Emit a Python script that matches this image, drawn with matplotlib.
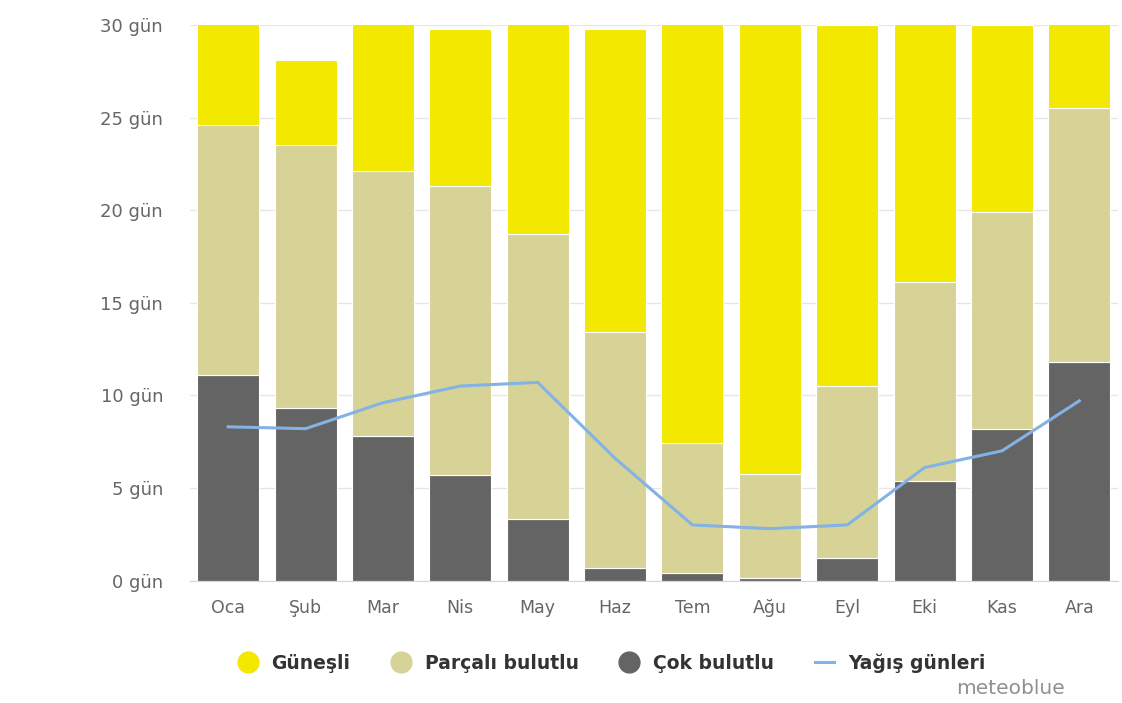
import matplotlib.pyplot as plt
from matplotlib.lines import Line2D
import numpy as np

months = ["Oca", "Şub", "Mar", "Nis", "May", "Haz", "Tem", "Ağu", "Eyl", "Eki", "Kas", "Ara"]
# days per category (stacked from the bottom)
cok_bulutlu = [11.1, 9.3, 7.8, 5.7, 3.3, 0.7, 0.4, 0.15, 1.2, 5.4, 8.2, 11.8]
parcali_bulutlu = [13.5, 14.2, 14.3, 15.6, 15.4, 12.7, 7.05, 5.6, 9.3, 10.7, 11.7, 13.7]
gunesli = [6.4, 4.6, 8.9, 8.5, 12.3, 16.4, 23.55, 25.25, 19.5, 14.9, 10.1, 5.5]
yagis_gunleri = [8.3, 8.2, 9.6, 10.5, 10.7, 6.6, 3.0, 2.8, 3.0, 6.1, 7.0, 9.7]
y_ticks = [0, 5, 10, 15, 20, 25, 30]

col_sun = "#f3e800"
col_part = "#d7d397"
col_cloud = "#646464"
col_rain = "#82b3e4"

fig = plt.figure(figsize=(11.22, 7.03), dpi=100)
ax = fig.add_axes([189.5 / 1122, 1 - 580.5 / 703, (1118 - 189.5) / 1122, (580.5 - 25) / 703])

x = np.arange(len(months))
w = 0.8
b1 = np.array(cok_bulutlu)
b2 = b1 + np.array(parcali_bulutlu)
ax.bar(x, cok_bulutlu, w, color=col_cloud, edgecolor="white", linewidth=0.8, zorder=2)
ax.bar(x, parcali_bulutlu, w, bottom=b1, color=col_part, edgecolor="white", linewidth=0.8, zorder=2)
ax.bar(x, gunesli, w, bottom=b2, color=col_sun, edgecolor="white", linewidth=0.8, zorder=2)
ax.plot(x, yagis_gunleri, color=col_rain, linewidth=2.2, zorder=3)

ax.set_xlim(-0.5, len(months) - 0.5)
ax.set_ylim(0, 30)
ax.set_yticks(y_ticks)
ax.set_yticklabels([f"{v} gün" for v in y_ticks])
ax.set_xticks(x)
ax.set_xticklabels(months)
ax.tick_params(axis="both", length=0, colors="#666666")
ax.tick_params(axis="y", pad=19, labelsize=13)
ax.tick_params(axis="x", pad=13, labelsize=12.5)
ax.grid(axis="y", color="#e6e6e6", linewidth=1, zorder=0)
ax.set_axisbelow(True)
for side in ["top", "right", "left"]:
    ax.spines[side].set_visible(False)
ax.spines["bottom"].set_color("#ccd6eb")
ax.spines["bottom"].set_zorder(4)

handles = [
    Line2D([0], [0], marker="o", linestyle="none", markersize=15, markerfacecolor=col_sun, markeredgecolor=col_sun),
    Line2D([0], [0], marker="o", linestyle="none", markersize=15, markerfacecolor=col_part, markeredgecolor=col_part),
    Line2D([0], [0], marker="o", linestyle="none", markersize=15, markerfacecolor=col_cloud, markeredgecolor=col_cloud),
    Line2D([0], [0], color=col_rain, linewidth=2.2),
]
labels = ["Güneşli", "Parçalı bulutlu", "Çok bulutlu", "Yağış günleri"]
leg = fig.legend(handles, labels, loc="center", bbox_to_anchor=(612 / 1122, 1 - 663 / 703),
                 ncol=4, frameon=False, handlelength=1.0, handletextpad=0.75, columnspacing=2.2,
                 prop={"weight": "bold", "size": 13.5})
for t in leg.get_texts():
    t.set_color("#333333")

fig.text(1065 / 1122, 1 - 688 / 703, "meteoblue", ha="right", va="center", color="#909090", fontsize=14.5)

fig.savefig("out.png", dpi=100)
